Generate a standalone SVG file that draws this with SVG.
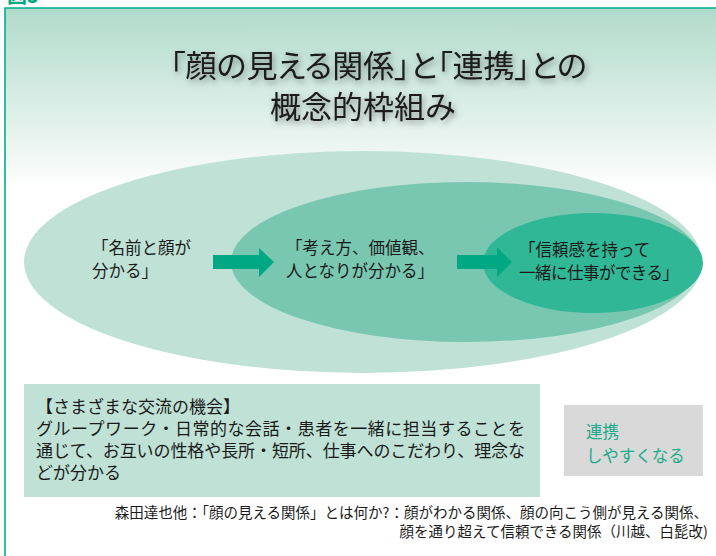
<svg xmlns="http://www.w3.org/2000/svg" width="716" height="556" viewBox="0 0 716 556">
<defs>
<linearGradient id="bg" x1="0" y1="0" x2="0" y2="1">
<stop offset="0" stop-color="#b0dbcb"/>
<stop offset="0.85" stop-color="#f2f8f6"/>
<stop offset="1" stop-color="#ffffff"/>
</linearGradient>
<filter id="sh" x="-10%" y="-30%" width="120%" height="170%">
<feDropShadow dx="2" dy="3" stdDeviation="3" flood-color="#000" flood-opacity="0.4"/>
</filter>
<style>
text{font-family:"Noto Sans CJK JP","Noto Sans",sans-serif;fill:#1a1a1a}
.t{font-size:31px;font-feature-settings:"palt"}
.n{font-size:16.5px}
.b{font-size:17px}
.c{font-size:14.5px;text-anchor:end}
.g{fill:#1aab8a;font-size:16.5px}
.arr{fill:#00a884}
</style>
</defs>
<rect x="0" y="0" width="716" height="556" fill="#ffffff"/>
<text x="7" y="3" style="font-size:20px;font-weight:bold;fill:#00a884">図5</text>
<rect x="5" y="8" width="711" height="180" fill="url(#bg)"/>
<path d="M5,556 V8 H716" fill="none" stroke="#00ae8c" stroke-width="1.6"/>
<g id="title" filter="url(#sh)">
<text class="t" x="170" y="77">「顔の見える関係」と「連携」との</text>
<text class="t" x="270" y="118">概念的枠組み</text>
</g>
<g id="outer">
<ellipse cx="363" cy="262" rx="339" ry="111" fill="#c0e2d6"/>
<text class="n" x="92" y="254">「名前と顔が</text>
<text class="n" x="92" y="277">分かる」</text>
</g>
<g id="middle">
<ellipse cx="466" cy="262" rx="235" ry="80" fill="#79c7b1"/>
<text class="n" x="286" y="254">「考え方、価値観、</text>
<text class="n" x="286" y="277">人となりが分かる」</text>
</g>
<g id="inner">
<ellipse cx="593" cy="263" rx="110" ry="50" fill="#30b796"/>
<text class="n" x="519" y="256">「信頼感を持って</text>
<text class="n" x="519" y="279" textLength="160" lengthAdjust="spacing">一緒に仕事ができる」</text>
</g>
<g id="connectors">
<polygon class="arr" points="213,255 259,255 259,248 274,262 259,277 259,269 213,269"/>
<polygon class="arr" points="457,255 497,255 497,247 512,262 497,277 497,269 457,269"/>
</g>
<g id="opportunities">
<rect x="24" y="384" width="516" height="113" fill="#c0e2d6"/>
<text class="b" x="36" y="413">【さまざまな交流の機会】</text>
<text class="b" x="36" y="435" textLength="489" lengthAdjust="spacing">グループワーク・日常的な会話・患者を一緒に担当することを</text>
<text class="b" x="36" y="457" textLength="489" lengthAdjust="spacing">通じて、お互いの性格や長所・短所、仕事へのこだわり、理念な</text>
<text class="b" x="36" y="479">どが分かる</text>
</g>
<g id="result">
<rect x="564" y="405" width="139" height="71" fill="#d9d9d9"/>
<text class="g" x="586" y="438">連携</text>
<text class="g" x="586" y="462">しやすくなる</text>
</g>
<g id="citation">
<text class="c" x="708" y="518">森田達也他：「顔の見える関係」とは何か?：顔がわかる関係、顔の向こう側が見える関係、</text>
<text class="c" x="708" y="537">顔を通り超えて信頼できる関係（川越、白髭改)</text>
</g>
</svg>
